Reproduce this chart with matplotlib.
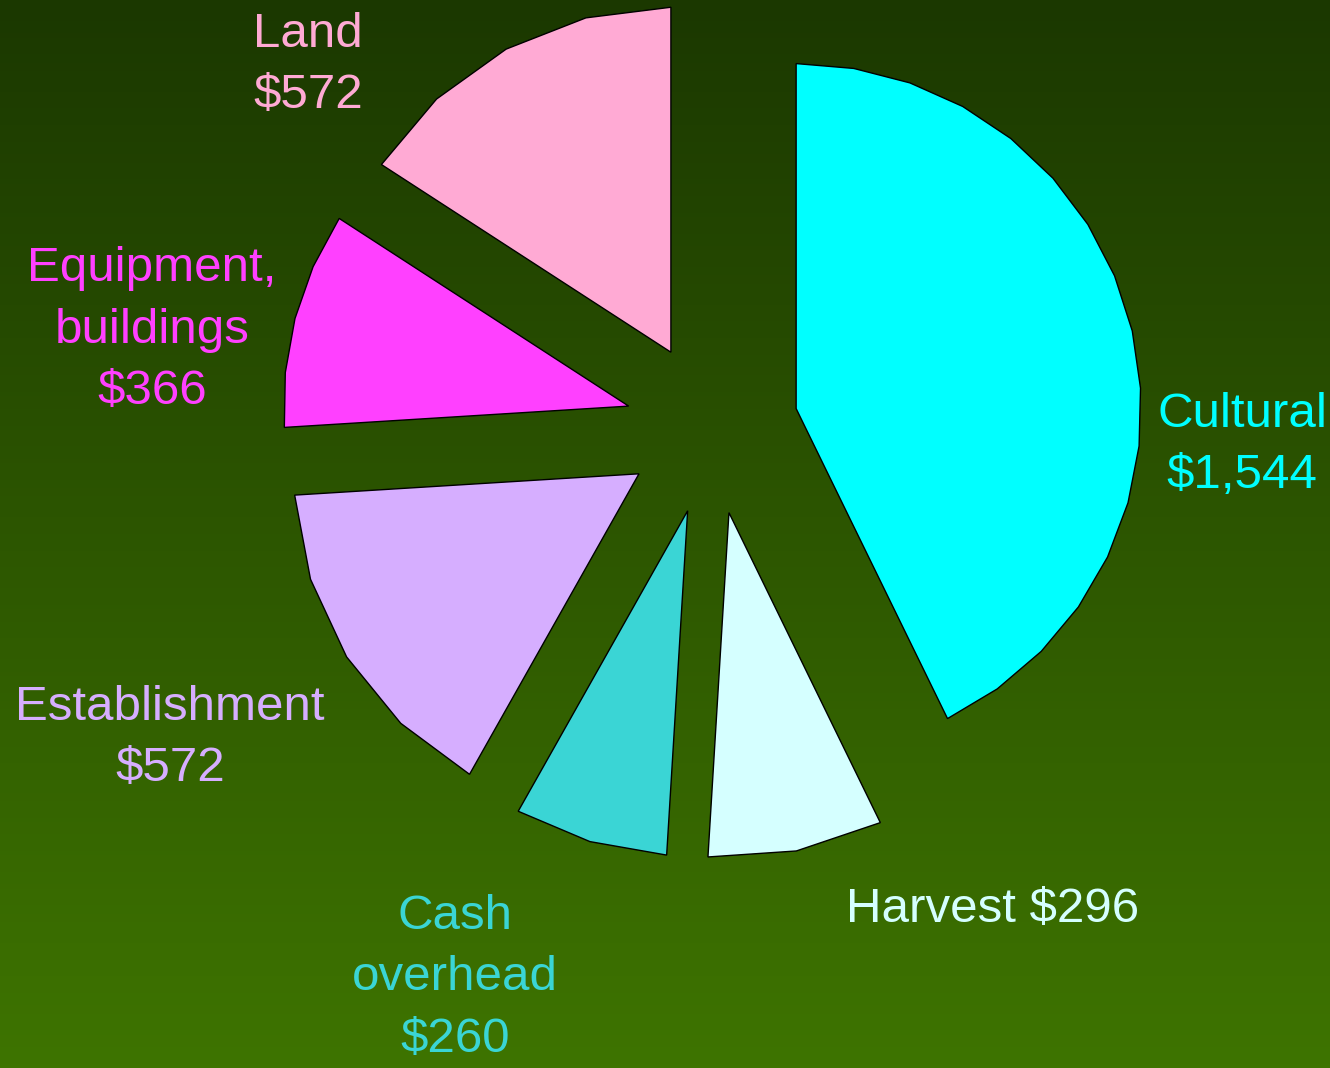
import matplotlib.pyplot as plt
import numpy as np
from matplotlib.patches import Polygon
from matplotlib.colors import LinearSegmentedColormap

# cost breakdown ($)
categories = ['Cultural', 'Harvest', 'Cash\noverhead', 'Establishment',
              'Equipment,\nbuildings', 'Land']
values = [1544, 296, 260, 572, 366, 572]
value_labels = ['$1,544', '$296', '$260', '$572', '$366', '$572']
colors = ['#00FFFF', '#D5FFFF', '#3AD5D5', '#D6AEFF', '#FF40FF', '#FFAAD4']

# styling
explode = 0.25
n_segments = [16, 2, 2, 4, 4, 4]   # the arcs are drawn as coarse polygons
label_pos = [(1.536, -0.049), (0.814, -1.397), (-0.745, -1.594),
             (-1.571, -0.899), (-1.623, 0.284), (-1.171, 1.052)]
single_line = [False, True, False, False, False, False]

fig = plt.figure(figsize=(13.3, 10.68), dpi=100)
ax = fig.add_axes([0, 0, 1, 1])
xlim = (-2.064, 1.791)
ylim = (-1.855, 1.2406)
ax.set_xlim(xlim)
ax.set_ylim(ylim)
ax.set_aspect('equal')
ax.axis('off')

# green vertical gradient background
cmap = LinearSegmentedColormap.from_list('bg', ['#3E7400', '#1B3800'])
grad = np.linspace(0, 1, 256).reshape(-1, 1)
ax.imshow(grad, cmap=cmap, aspect='auto', origin='lower',
          extent=[xlim[0], xlim[1], ylim[0], ylim[1]], zorder=0)

total = float(sum(values))
start = 90.0
for i, v in enumerate(values):
    span = 360.0 * v / total
    t1, t2 = start, start - span
    mid = np.radians((t1 + t2) / 2)
    cx, cy = explode * np.cos(mid), explode * np.sin(mid)
    th = np.radians(np.linspace(t1, t2, n_segments[i] + 1))
    pts = [(cx, cy)] + [(cx + np.cos(t), cy + np.sin(t)) for t in th]
    ax.add_patch(Polygon(pts, closed=True, facecolor=colors[i],
                         edgecolor='black', linewidth=1.0, zorder=2))
    start = t2

    sep = ' ' if single_line[i] else '\n'
    ax.text(label_pos[i][0], label_pos[i][1], categories[i] + sep + value_labels[i],
            ha='center', va='center', multialignment='center',
            fontsize=35.5, family='Liberation Sans', color=colors[i],
            linespacing=1.47, zorder=3)

fig.savefig('out.png', dpi=100)
